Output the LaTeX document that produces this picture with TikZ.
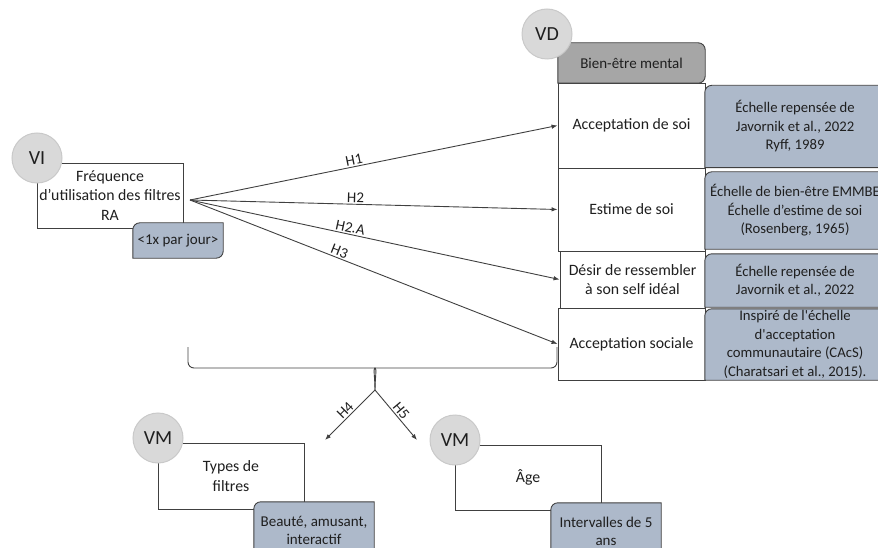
\documentclass[tikz,border=0pt]{standalone}
\usepackage{fontspec}
\setmainfont{Carlito}
\usetikzlibrary{arrows.meta,backgrounds}

\definecolor{circfill}{HTML}{D9D9D9}
\definecolor{circedge}{HTML}{C9C9C9}
\definecolor{tagblue}{HTML}{ADB9CA}
\definecolor{headgray}{HTML}{A6A6A6}
\definecolor{linegray}{HTML}{404040}
\definecolor{inkgray}{HTML}{1F1F1F}

\newcommand{\tagrad}{7pt}
% blue tag: round top-left and bottom-right corners
\newcommand{\diagshape}[1]{%
  \filldraw[tagshape] ([xshift=\tagrad]#1.north west) -- (#1.north east)
    -- ([yshift=\tagrad]#1.south east) arc[start angle=0, end angle=-90, radius=\tagrad]
    -- (#1.south west) -- ([yshift=-\tagrad]#1.north west)
    arc[start angle=180, end angle=90, radius=\tagrad] -- cycle;}
% grey header: round right side
\newcommand{\headshape}[1]{%
  \filldraw[headshape] (#1.south west) -- (#1.north west) -- ([xshift=-\tagrad]#1.north east)
    arc[start angle=90, end angle=0, radius=\tagrad] -- ([yshift=\tagrad]#1.south east)
    arc[start angle=0, end angle=-90, radius=\tagrad] -- cycle;}

\tikzset{
  varcircle/.style={circle, minimum size=50pt, inner sep=0pt, fill=circfill, draw=circedge,
    line width=1pt, font=\fontsize{20}{24}\selectfont, text=inkgray},
  varbox/.style={rectangle, draw=linegray, fill=white, line width=0.9pt, inner sep=0pt,
    align=center, font=\fontsize{15.8}{19.5}\selectfont, text=inkgray},
  rowbox/.style={varbox, minimum width=147pt},
  tagbox/.style={inner sep=0pt, align=center, font=\fontsize{15}{17.5}\selectfont, text=inkgray},
  scalebox/.style={tagbox, minimum width=180pt, font=\fontsize{14.7}{18.5}\selectfont},
  tagshape/.style={fill=tagblue, draw=linegray, line width=0.9pt},
  headshape/.style={fill=headgray, draw=linegray, line width=0.9pt},
  hyp/.style={draw=linegray, line width=0.9pt, -{Latex[length=6pt,width=4.5pt]}},
  hyplabel/.style={font=\fontsize{15}{18}\selectfont, text=inkgray, sloped, above, inner sep=1.5pt},
  brace/.style={draw=linegray, line width=0.9pt, rounded corners=6pt},
}

\begin{document}
\begin{tikzpicture}[x=1pt, y=-1pt]
\useasboundingbox (0,0) rectangle (878,548);

% tags, header and scales (their shapes go on the background layer)
\node[tagbox, minimum width=90pt, minimum height=35pt] (freqtag) at (178,240.5) {<1x par jour>};
\node[tagbox, minimum width=120pt, minimum height=57pt] (typetag) at (314,530.5) {Beauté, amusant,\\interactif};
\node[tagbox, minimum width=110pt, minimum height=57pt] (agetag) at (606,531.5) {Intervalles de 5\\ans};
\node[tagbox, minimum width=147pt, minimum height=40pt] (mental) at (631.5,63) {Bien-être mental};
\node[scalebox, minimum height=82pt] (scale1) at (795,126.5) {Échelle repensée de\\Javornik et al., 2022\\Ryff, 1989};
\node[scalebox, minimum height=77pt] (scale2) at (795,210.5) {Échelle de bien-être EMMBE\\Échelle d’estime de soi\\(Rosenberg, 1965)};
\node[scalebox, minimum height=53pt] (scale3) at (795,280.5) {Échelle repensée de\\Javornik et al., 2022};
\node[scalebox, minimum height=71pt] (scale4) at (795,344.5) {Inspiré de l\textquotesingle échelle\\d\textquotesingle acceptation\\communautaire (CAcS)\\(Charatsari et al., 2015).};

\begin{scope}[on background layer]
  \node[varbox, minimum width=146pt, minimum height=65pt] (freq) at (110,195.5) {Fréquence\\d’utilisation des filtres\\RA};
  \node[rowbox, minimum height=85pt] (aself) at (631.5,125.5) {Acceptation de soi};
  \node[rowbox, minimum height=83pt] (esteem) at (631.5,209.5) {Estime de soi};
  \node[rowbox, minimum width=145pt, minimum height=57pt] (ideal) at (632.5,279.5) {Désir de ressembler\\à son self idéal};
  \node[rowbox, minimum height=72pt] (social) at (631.5,344) {Acceptation sociale};
  \node[varbox, minimum width=146pt, minimum height=66pt] (types) at (231,476) {Types de\\filtres};
  \node[varbox, minimum width=146pt, minimum height=65pt] (age) at (528,477.5) {Âge};
  \diagshape{freqtag}
  \diagshape{typetag}
  \diagshape{agetag}
  \diagshape{scale1}
  \diagshape{scale2}
  \diagshape{scale3}
  \diagshape{scale4}
  \headshape{mental}
\end{scope}

\node[varcircle] (vi) at (37,158) {VI};
\node[varcircle] (vd) at (547,34) {VD};
\node[varcircle] (vmtypes) at (158,438) {VM};
\node[varcircle] (vmage) at (455,440) {VM};

% hypotheses
\coordinate (src) at (190,200);
\draw[hyp] (src) -- node[hyplabel, pos=.45] {H1} (aself.west);
\draw[hyp] (src) -- node[hyplabel, pos=.45] {H2} (esteem.west);
\draw[hyp] (src) -- node[hyplabel, pos=.43] {H2.A} (ideal.west);
\draw[hyp] (src) -- node[hyplabel, pos=.40] {H3} (social.west);

% moderators
\coordinate (fork) at (375,390);
\draw[brace] (188,347) -- (188,368) -- (369,368) .. controls (373,368) and (375,378) .. (fork);
\draw[brace] (557,347) -- (557,368) -- (381,368) .. controls (377,368) and (375,378) .. (fork);
\coordinate (h4tip) at (325,440);
\coordinate (h5tip) at (417,440);
\draw[hyp] (fork) -- node[hyplabel] {H4} (h4tip);
\draw[hyp] (fork) -- node[hyplabel] {H5} (h5tip);

\end{tikzpicture}
\end{document}
